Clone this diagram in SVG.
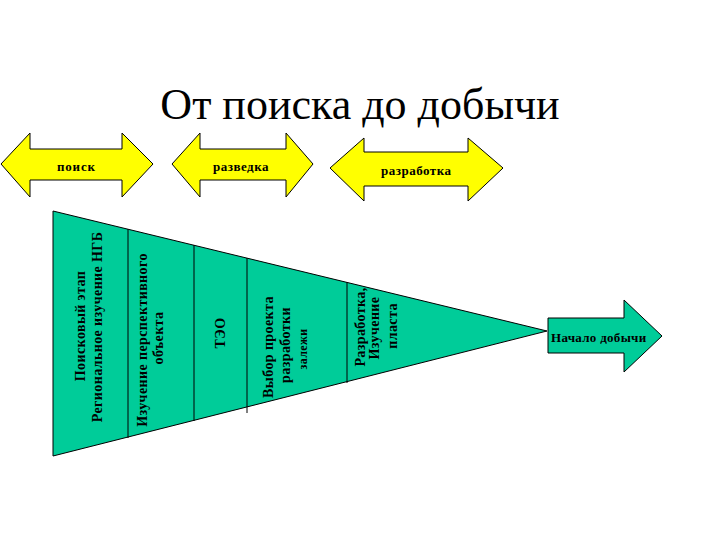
<svg xmlns="http://www.w3.org/2000/svg" width="720" height="540" viewBox="0 0 720 540">
<style>
.arr{fill:#FFFF00;stroke:#000;stroke-width:1}
.fun{fill:#00CC99;stroke:#000;stroke-width:1}
.lbl{font-family:"Liberation Serif","DejaVu Serif",serif;font-weight:bold;font-size:13px;fill:#000}
.vt{font-family:"Liberation Serif","DejaVu Serif",serif;font-weight:bold;font-size:14px;fill:#000;text-anchor:middle;letter-spacing:0.4px}
.div{stroke:#000;stroke-width:1;fill:none}
</style>
<rect width="720" height="540" fill="#fff"/>
<text x="360" y="119" font-family="'Liberation Serif','DejaVu Serif',serif" font-size="44" text-anchor="middle" fill="#000">От поиска до добычи</text>

<g id="poisk">
<polygon class="arr" points="1,164 30,133 30,149 122,149 122,133 153,164 122,197 122,180 30,180 30,197"/>
<text class="lbl" x="57" y="171" letter-spacing="0.8">поиск</text>
</g>
<g id="razvedka">
<polygon class="arr" points="172,164 200,133 200,149 286,149 286,133 313,164 286,197 286,180 200,180 200,197"/>
<text class="lbl" x="213" y="171" letter-spacing="0.5">разведка</text>
</g>
<g id="razrabotka">
<polygon class="arr" points="330,168 364,138 364,152 468,152 468,138 503,168 468,201 468,186 364,186 364,201"/>
<text class="lbl" x="381" y="175" letter-spacing="0.5">разработка</text>
</g>

<g id="funnel">
<polygon class="fun" points="53,211 547,331 53,456"/>
</g>
<g id="connectors">
<line class="div" x1="128" y1="229" x2="128" y2="438"/>
<line class="div" x1="194" y1="245" x2="194" y2="421"/>
<line class="div" x1="247" y1="258" x2="247" y2="413"/>
<line class="div" x1="347" y1="282" x2="347" y2="383"/>
</g>

<g id="stage1">
<text class="vt" transform="translate(85,326) rotate(-90)">Поисковый этап</text>
<text class="vt" transform="translate(102,327) rotate(-90)">Региональное изучение НГБ</text>
</g>
<g id="stage2">
<text class="vt" transform="translate(147,340) rotate(-90)">Изучение перспективного</text>
<text class="vt" transform="translate(163,338) rotate(-90)">объекта</text>
</g>
<g id="stage3">
<text class="vt" transform="translate(225,333) rotate(-90)">ТЭО</text>
</g>
<g id="stage4">
<text class="vt" transform="translate(273,347) rotate(-90)">Выбор проекта</text>
<text class="vt" transform="translate(290,345) rotate(-90)">разработки</text>
<text class="vt" style="font-size:12px" transform="translate(307,349) rotate(-90)">залежи</text>
</g>
<g id="stage5">
<text class="vt" transform="translate(365,327) rotate(-90)">Разработка,</text>
<text class="vt" transform="translate(379,328) rotate(-90)">Изучение</text>
<text class="vt" transform="translate(397,326) rotate(-90)">пласта</text>
</g>

<g id="start">
<polygon class="fun" points="548,318 624,318 624,300 662,336 624,372 624,353 548,353"/>
<text class="lbl" x="551" y="342" letter-spacing="0.3">Начало добычи</text>
</g>
</svg>
